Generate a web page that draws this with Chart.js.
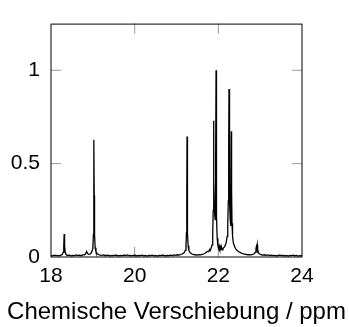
<!DOCTYPE html>
<html>
<head>
<meta charset="utf-8">
<script src="https://cdn.jsdelivr.net/npm/chart.js@4.4.1/dist/chart.umd.min.js"></script>
<style>
  html, body { margin: 0; padding: 0; background: #fff; }
  #c { display: block; }
</style>
</head>
<body>
<canvas id="c" width="349" height="327"></canvas>
<script>
const ppm = [
  18.00, 18.04, 18.08, 18.12, 18.16, 18.20, 18.24, 18.27, 18.29, 18.305, 18.315, 18.325, 18.34, 18.36,
  18.40, 18.44, 18.48, 18.52, 18.56, 18.60, 18.64, 18.68, 18.72, 18.76, 18.80, 18.83, 18.85, 18.87,
  18.90, 18.94, 18.97, 19.00, 19.013, 19.021, 19.027, 19.033, 19.041, 19.055, 19.075, 19.10, 19.14, 19.18,
  19.22, 19.26, 19.30, 19.34, 19.38, 19.42, 19.46, 19.50, 19.54, 19.58, 19.62, 19.66, 19.70, 19.74,
  19.78, 19.82, 19.86, 19.90, 19.94, 19.98, 20.02, 20.06, 20.10, 20.14, 20.18, 20.22, 20.26, 20.30,
  20.34, 20.38, 20.42, 20.46, 20.50, 20.54, 20.58, 20.62, 20.66, 20.70, 20.74, 20.78, 20.82, 20.86,
  20.90, 20.94, 20.98, 21.02, 21.06, 21.10, 21.14, 21.18, 21.21, 21.227, 21.238, 21.246, 21.252, 21.258,
  21.266, 21.277, 21.295, 21.33, 21.37, 21.41, 21.45, 21.49, 21.53, 21.57, 21.61, 21.65, 21.68, 21.71,
  21.74, 21.77, 21.79, 21.81, 21.83, 21.85, 21.865, 21.877, 21.884, 21.889, 21.896, 21.905, 21.915,
  21.925, 21.933, 21.94, 21.946, 21.952, 21.96, 21.972, 21.99, 22.005, 22.02, 22.035, 22.05, 22.065,
  22.08, 22.095, 22.11, 22.13, 22.15, 22.17, 22.19, 22.21, 22.225, 22.238, 22.248, 22.255, 22.263,
  22.273, 22.284, 22.294, 22.302, 22.309, 22.317, 22.327, 22.34, 22.36, 22.39, 22.42, 22.46, 22.50,
  22.54, 22.58, 22.62, 22.66, 22.70, 22.74, 22.78, 22.82, 22.85, 22.88, 22.90, 22.91, 22.92, 22.93,
  22.94, 22.96, 22.99, 23.03, 23.07, 23.11, 23.15, 23.19, 23.23, 23.27, 23.31, 23.35, 23.39, 23.43,
  23.47, 23.51, 23.55, 23.59, 23.63, 23.67, 23.71, 23.75, 23.79, 23.83, 23.87, 23.91, 23.95, 24.00
];
const intensity = [
  0.008, 0.006, 0.010, 0.007, 0.009, 0.006, 0.010, 0.014, 0.025, 0.060, 0.123, 0.060, 0.025, 0.013,
  0.008, 0.010, 0.006, 0.009, 0.007, 0.011, 0.008, 0.010, 0.007, 0.011, 0.012, 0.018, 0.030, 0.020,
  0.014, 0.016, 0.025, 0.045, 0.120, 0.330, 0.628, 0.330, 0.120, 0.050, 0.028, 0.018, 0.012, 0.010,
  0.009, 0.011, 0.007, 0.010, 0.008, 0.006, 0.009, 0.007, 0.010, 0.008, 0.006, 0.009, 0.007, 0.010,
  0.008, 0.011, 0.007, 0.009, 0.006, 0.010, 0.008, 0.006, 0.009, 0.007, 0.010, 0.006, 0.008, 0.005,
  0.009, 0.007, 0.010, 0.006, 0.008, 0.005, 0.009, 0.007, 0.010, 0.008, 0.006, 0.009, 0.007, 0.010,
  0.008, 0.011, 0.009, 0.012, 0.010, 0.014, 0.016, 0.022, 0.035, 0.060, 0.130, 0.340, 0.646, 0.340,
  0.130, 0.060, 0.035, 0.022, 0.016, 0.013, 0.012, 0.010, 0.012, 0.011, 0.014, 0.016, 0.020, 0.025,
  0.030, 0.028, 0.040, 0.035, 0.050, 0.065, 0.110, 0.250, 0.450, 0.730, 0.420, 0.280, 0.220,
  0.200, 0.300, 0.550, 1.000, 0.550, 0.220, 0.100, 0.060, 0.045, 0.060, 0.045, 0.055, 0.040,
  0.050, 0.038, 0.045, 0.050, 0.055, 0.065, 0.080, 0.110, 0.170, 0.300, 0.600, 0.900, 0.550,
  0.300, 0.200, 0.167, 0.300, 0.673, 0.350, 0.180, 0.110, 0.075, 0.055, 0.042, 0.033, 0.027,
  0.022, 0.018, 0.016, 0.014, 0.012, 0.013, 0.011, 0.014, 0.016, 0.025, 0.045, 0.055, 0.045, 0.065,
  0.040, 0.022, 0.016, 0.012, 0.010, 0.012, 0.009, 0.011, 0.008, 0.010, 0.007, 0.009, 0.006, 0.008,
  0.010, 0.007, 0.009, 0.006, 0.008, 0.005, 0.009, 0.007, 0.010, 0.006, 0.008, 0.005, 0.007, 0.006
];
const xTicks = [18, 20, 22, 24];
const yTicks = [0, 0.5, 1];
const xTitle = 'Chemische Verschiebung / ppm';

const points = ppm.map((x, i) => ({ x: x, y: intensity[i] }));

const tickFont = { family: "'Liberation Sans', Arial, sans-serif", size: 21 };

const framePlugin = {
  id: 'frame',
  beforeDatasetsDraw(chart) {
    const { ctx, chartArea: a, scales } = chart;
    ctx.save();
    ctx.strokeStyle = '#999';
    ctx.lineWidth = 1;
    const L = 10;
    scales.x.ticks.forEach(t => {
      const px = scales.x.getPixelForValue(t.value);
      if (px <= a.left + 1 || px >= a.right - 1) return;
      ctx.beginPath();
      ctx.moveTo(px, a.bottom); ctx.lineTo(px, a.bottom - L);
      ctx.moveTo(px, a.top); ctx.lineTo(px, a.top + L);
      ctx.stroke();
    });
    scales.y.ticks.forEach(t => {
      const py = scales.y.getPixelForValue(t.value);
      if (py >= a.bottom - 1 || py <= a.top + 1) return;
      ctx.beginPath();
      ctx.moveTo(a.left, py); ctx.lineTo(a.left + L, py);
      ctx.moveTo(a.right, py); ctx.lineTo(a.right - L, py);
      ctx.stroke();
    });
    ctx.restore();
  },
  afterDraw(chart) {
    const { ctx, chartArea: a } = chart;
    ctx.save();
    ctx.strokeStyle = '#000';
    ctx.lineWidth = 1;
    ctx.strokeRect(a.left, a.top + 0.5, a.right - a.left, a.bottom - a.top - 0.5);
    ctx.fillStyle = '#000';
    ctx.font = "24px 'Liberation Sans', Arial, sans-serif";
    ctx.textAlign = 'center';
    ctx.textBaseline = 'alphabetic';
    ctx.fillText(xTitle, (a.left + a.right) / 2, 319);
    ctx.restore();
  }
};

new Chart(document.getElementById('c'), {
  type: 'scatter',
  data: {
    datasets: [{
      data: points,
      showLine: true,
      borderColor: '#000',
      borderWidth: 1.3,
      pointRadius: 0,
      tension: 0,
      fill: false
    }]
  },
  options: {
    responsive: false,
    animation: false,
    layout: { padding: { top: 6, right: 47, left: 0, bottom: 0 } },
    plugins: { legend: { display: false }, tooltip: { enabled: false } },
    scales: {
      x: {
        type: 'linear',
        min: 18, max: 24,
        afterBuildTicks: s => { s.ticks = xTicks.map(v => ({ value: v })); },
        afterFit: s => { s.height = 70; },
        ticks: { font: tickFont, color: '#000', padding: 7, maxRotation: 0, callback: v => String(v) },
        grid: { display: false, drawTicks: false },
        border: { display: false },
        title: { display: false }
      },
      y: {
        min: 0, max: 1.25,
        afterBuildTicks: s => { s.ticks = yTicks.map(v => ({ value: v })); },
        afterFit: s => { s.width = 51; },
        ticks: { font: tickFont, color: '#000', padding: 11, callback: v => String(v) },
        grid: { display: false, drawTicks: false },
        border: { display: false }
      }
    }
  },
  plugins: [framePlugin]
});
</script>
</body>
</html>
